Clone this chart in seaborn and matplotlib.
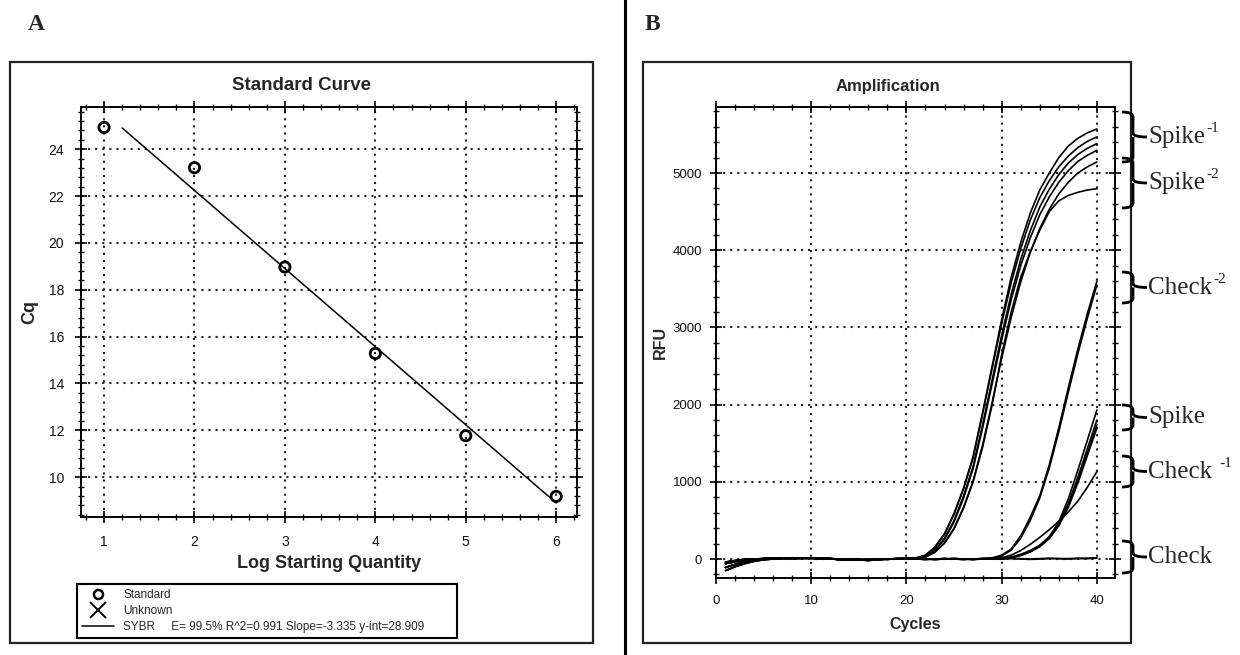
import matplotlib
matplotlib.use("Agg")
import matplotlib.pyplot as plt
from matplotlib import font_manager
from matplotlib.lines import Line2D
from matplotlib.patches import Rectangle, PathPatch
from matplotlib.path import Path
from matplotlib.ticker import MultipleLocator
import pandas as pd
import seaborn as sns

# ---------------- Standard curve (panel A) ----------------
LOG_QTY = [1, 2, 3, 4, 5, 6]
CQ = [24.93, 23.21, 18.97, 15.28, 11.77, 9.18]
FIT_SLOPE = -3.335
FIT_YINT = 28.909
FIT_X = [1.2, 6.0]
LEGEND_LABELS = ["Standard", "Unknown",
                 "SYBR     E= 99.5% R^2=0.991 Slope=-3.335 y-int=28.909"]

# ---------------- Amplification (panel B) ----------------
CYCLES = list(range(1, 41))
SPIKE_1A = [-60, -35, -15, -5, 5, 10, 10, 10, 10, 10, 10, 5, -10, -5, -15, -5, -10, 0, 5, 5,
            15, 50, 160, 330, 590, 920, 1330, 1900, 2500, 3100, 3650, 4100, 4480, 4780, 5000,
            5200, 5350, 5450, 5520, 5571]
SPIKE_1B = [-110, -70, -35, -15, 0, 5, 10, 10, 10, 10, 5, 5, 0, -10, -5, -10, 0, -5, 5, 5,
            12, 45, 150, 320, 580, 910, 1310, 1880, 2470, 3050, 3580, 4020, 4390, 4680, 4900,
            5080, 5220, 5330, 5410, 5468]
SPIKE_1C = [-40, -20, -5, 0, 5, 10, 10, 10, 10, 10, 5, 0, -5, -10, -5, -15, -5, 0, 0, 5,
            8, 35, 120, 270, 500, 820, 1200, 1740, 2320, 2900, 3430, 3880, 4250, 4560, 4790,
            4980, 5130, 5240, 5320, 5381]
SPIKE_2A = [-60, -35, -15, -5, 5, 10, 10, 10, 10, 10, 10, 5, -10, -5, -15, -5, -10, 0, 5, 5,
            8, 30, 110, 255, 480, 790, 1170, 1700, 2270, 2840, 3360, 3800, 4160, 4460, 4690,
            4880, 5030, 5150, 5230, 5294]
SPIKE_2B = [-150, -100, -60, -30, -10, 0, 5, 5, 10, 10, 10, 5, -5, -15, -10, -20, -5, 0, 0, 5,
            5, 25, 90, 210, 400, 670, 1010, 1480, 2030, 2600, 3130, 3590, 3970, 4280, 4530,
            4730, 4880, 5000, 5080, 5143]
SPIKE_2C = [-110, -70, -35, -15, 0, 5, 10, 10, 10, 10, 5, 5, 0, -10, -5, -10, 0, -5, 5, 5,
            5, 25, 90, 205, 390, 660, 1000, 1450, 2000, 2650, 3200, 3650, 3980, 4260, 4500,
            4640, 4710, 4750, 4780, 4796]
CHECK_2A = [-40, -20, -5, 0, 5, 10, 10, 10, 10, 10, 5, 0, -5, -10, -5, -15, -5, 0, 0, 5,
            5, 0, -5, 0, 5, 0, -5, 5, 15, 50, 130, 300, 540, 820, 1220, 1700, 2220, 2720,
            3180, 3600]
CHECK_2B = [-60, -35, -15, -5, 5, 10, 10, 10, 10, 10, 10, 5, -10, -5, -15, -5, -10, 0, 5, 5,
            0, -5, 0, 5, 0, -5, 0, 5, 10, 40, 115, 270, 500, 790, 1180, 1650, 2160, 2660,
            3120, 3550]
SPIKE_A = [-110, -70, -35, -15, 0, 5, 10, 10, 10, 10, 5, 5, 0, -10, -5, -10, 0, -5, 5, 5,
           5, 0, -5, 0, 5, 0, -5, 0, 5, 5, 25, 60, 110, 180, 290, 480, 780, 1150, 1540, 1930]
SPIKE_B = [-150, -100, -60, -30, -10, 0, 5, 5, 10, 10, 10, 5, -5, -15, -10, -20, -5, 0, 0, 5,
           0, -5, 0, 5, 0, -5, 0, 5, 5, 5, 20, 55, 100, 170, 280, 450, 720, 1060, 1430, 1800]
SPIKE_C = [-40, -20, -5, 0, 5, 10, 10, 10, 10, 10, 5, 0, -5, -10, -5, -15, -5, 0, 0, 5,
           5, 0, -5, 0, 5, 0, -5, 0, 5, 5, 20, 50, 95, 165, 270, 440, 690, 1010, 1370, 1736]
SPIKE_D = [-60, -35, -15, -5, 5, 10, 10, 10, 10, 10, 10, 5, -10, -5, -15, -5, -10, 0, 5, 5,
           0, -5, 0, 5, 0, -5, 0, 5, 5, 5, 15, 45, 90, 160, 265, 430, 670, 985, 1340, 1697]
CHECK_1A = [-110, -70, -35, -15, 0, 5, 10, 10, 10, 10, 5, 5, 0, -10, -5, -10, 0, -5, 5, 5,
            5, 0, -5, 0, 5, 0, -5, 0, 5, 15, 50, 110, 190, 280, 380, 490, 610, 750, 930, 1131]
CHECK_A = [-150, -100, -60, -30, -10, 0, 5, 5, 10, 10, 10, 5, -5, -15, -10, -20, -5, 0, 0, 5,
           5, 0, -5, 0, 5, 0, -5, 0, 5, 0, 5, 0, -5, 0, 5, 5, 0, 5, 5, 10]
CHECK_B = [-40, -20, -5, 0, 5, 10, 10, 10, 10, 10, 5, 0, -5, -10, -5, -15, -5, 0, 0, 5,
           0, -5, 0, 5, 0, -5, 0, 5, 0, 5, 10, 5, 0, 5, 10, 5, 5, 10, 10, 15]

GROUP_NAMES = ["Spike", "Spike", "Check", "Spike", "Check", "Check"]
GROUP_SUPS = ["-1", "-2", "-2", "", "-1", ""]

# ---------------- fonts ----------------
def pick_font(*names):
    for n in names:
        try:
            font_manager.findfont(n, fallback_to_default=False)
            return n
        except ValueError:
            pass
    return "DejaVu Sans"

sns.set_theme(style="white")
SANS = pick_font("Liberation Sans", "Arial", "DejaVu Sans")
NARROW = pick_font("Liberation Sans Narrow", "Liberation Sans", "DejaVu Sans")
SERIF = pick_font("Liberation Serif", "DejaVu Serif")
plt.rcParams["font.family"] = [SANS, "DejaVu Sans"]

# ---------------- figure layout helpers (pixels) ----------------
W, H = 1240, 655
fig = plt.figure(figsize=(W / 100, H / 100), dpi=100)
fig.patch.set_facecolor("white")

def fx(x):
    return x / W

def fy(y):
    return 1 - y / H

def rect(l, t, r, b):
    return [l / W, 1 - b / H, (r - l) / W, (b - t) / H]

# panel frames and divider
for l, t, r, b in [(9.5, 62, 593, 643), (643, 62, 1131, 643)]:
    fig.add_artist(Rectangle((fx(l), fy(b)), (r - l) / W, (b - t) / H,
                             transform=fig.transFigure, fill=False, lw=1.6, ec="#222222"))
fig.add_artist(Line2D([fx(625), fx(625)], [0, 1], transform=fig.transFigure,
                      color="black", lw=2.2))

axA = fig.add_axes(rect(81, 107, 577, 517))
axB = fig.add_axes(rect(716, 107, 1115, 578))

GRID_KW = dict(ls=(0, (1, 2.4)), lw=1.5, color="#222222")

def style_axes(ax, fs):
    ax.set_facecolor("white")
    for s in ax.spines.values():
        s.set_visible(True)
        s.set_linewidth(1.4)
        s.set_color("black")
    ax.tick_params(which="both", direction="inout", top=True, right=True,
                   bottom=True, left=True, color="black", labelcolor="#111111")
    ax.tick_params(which="major", length=8, width=1.2)
    ax.tick_params(which="minor", length=5, width=1.0)
    ax.grid(True, which="major", **GRID_KW)
    for lbl in ax.get_xticklabels() + ax.get_yticklabels():
        lbl.set_fontfamily(NARROW)
        lbl.set_fontsize(fs)

# ---------------- panel A: standard curve ----------------
axA.set_xlim(0.745, 6.23)
axA.set_ylim(8.3, 25.8)
axA.xaxis.set_major_locator(MultipleLocator(1))
axA.xaxis.set_minor_locator(MultipleLocator(0.2))
axA.yaxis.set_major_locator(MultipleLocator(2))
axA.yaxis.set_minor_locator(MultipleLocator(0.4))

fit_y = [FIT_SLOPE * x + FIT_YINT for x in FIT_X]
axA.plot(FIT_X, fit_y, color="black", lw=1.1, zorder=3)
sns.scatterplot(x=LOG_QTY, y=CQ, ax=axA, marker="o", s=55, facecolor="none",
                edgecolor="black", linewidth=2.0, zorder=4, legend=False)
axA.set_xlabel("")
axA.set_ylabel("")
style_axes(axA, 10)
axA.tick_params(axis="x", pad=9)
axA.tick_params(axis="y", pad=8)

fig.text(fx(302), fy(86), "Standard Curve", ha="center", va="center",
         fontsize=13.5, fontweight="bold")
axA.set_xlabel("Log Starting Quantity", fontsize=13, fontweight="bold")
axA.xaxis.set_label_coords(0.5, (517 - 564) / 410)
axA.xaxis.label.set_va("center")
axA.set_ylabel("Cq", fontsize=13, fontweight="bold")
axA.yaxis.set_label_coords((30 - 81) / 496, 0.5)
axA.yaxis.label.set_va("center")

handles = [
    Line2D([], [], marker="o", ls="none", mfc="none", mec="black", mew=1.8, ms=6.5),
    Line2D([], [], marker="x", ls="none", color="black", mew=1.4, ms=11),
    Line2D([], [], color="black", lw=1.1),
]
leg = axA.legend(handles, LEGEND_LABELS, loc="lower left", mode="expand",
                 bbox_to_anchor=(fx(77), fy(638), (457 - 77) / W, (638 - 578) / H),
                 bbox_transform=fig.transFigure, fontsize=8.5, frameon=True,
                 fancybox=False, edgecolor="black", framealpha=1, borderpad=0.45,
                 labelspacing=0.32, handlelength=2.7, handletextpad=0.75,
                 borderaxespad=0)
leg.get_frame().set_linewidth(1.5)

# ---------------- panel B: amplification ----------------
curves = {
    "s1a": SPIKE_1A, "s1b": SPIKE_1B, "s1c": SPIKE_1C,
    "s2a": SPIKE_2A, "s2b": SPIKE_2B, "s2c": SPIKE_2C,
    "c2a": CHECK_2A, "c2b": CHECK_2B,
    "sa": SPIKE_A, "sb": SPIKE_B, "sc": SPIKE_C, "sd": SPIKE_D,
    "c1a": CHECK_1A, "ca": CHECK_A, "cb": CHECK_B,
}
df = pd.concat([pd.DataFrame({"cycle": CYCLES, "rfu": v, "well": k})
                for k, v in curves.items()], ignore_index=True)
sns.lineplot(data=df, x="cycle", y="rfu", units="well", estimator=None,
             color="black", lw=1.2, ax=axB, legend=False, zorder=3)
axB.set_xlim(0, 41.9)
axB.set_ylim(-246, 5855)
axB.xaxis.set_major_locator(MultipleLocator(10))
axB.xaxis.set_minor_locator(MultipleLocator(2))
axB.yaxis.set_major_locator(MultipleLocator(1000))
axB.yaxis.set_minor_locator(MultipleLocator(200))
style_axes(axB, 9.5)
axB.tick_params(axis="x", pad=8)
axB.tick_params(axis="y", pad=6)

fig.text(fx(888), fy(86), "Amplification", ha="center", va="center",
         fontsize=12, fontweight="bold")
axB.set_xlabel("Cycles", fontsize=11.5, fontweight="bold")
axB.xaxis.set_label_coords(0.5, (578 - 625) / 471)
axB.xaxis.label.set_va("center")
axB.set_ylabel("RFU", fontsize=11.5, fontweight="bold")
axB.yaxis.set_label_coords((660 - 716) / 399, 0.5)
axB.yaxis.label.set_va("center")

# panel letters
fig.text(fx(36), fy(24), "A", ha="center", va="center", fontsize=17,
         fontweight="bold", family=SERIF)
fig.text(fx(652), fy(24), "B", ha="center", va="center", fontsize=17,
         fontweight="bold", family=SERIF)

# group braces with labels on the right of panel B
BRACE_SPANS = [(112, 162), (158, 208), (272, 303), (405, 430), (456, 487), (541, 573)]
XH, XV, XT = 1122, 1133, 1147

def brace(t, b):
    m = (t + b) / 2
    pts = [(XH, t), (XV, t), (XV, t + 5), (XV, m - 4), (XV, m), (XT, m),
           (XV, m), (XV, m + 4), (XV, b - 5), (XV, b), (XH, b)]
    codes = [Path.MOVETO, Path.CURVE3, Path.CURVE3, Path.LINETO, Path.CURVE3, Path.CURVE3,
             Path.MOVETO, Path.CURVE3, Path.LINETO, Path.CURVE3, Path.CURVE3]
    verts = [(fx(x), fy(y)) for x, y in pts]
    return PathPatch(Path(verts, codes), transform=fig.transFigure, fill=False,
                     lw=2.0, ec="black", capstyle="butt")

renderer = fig.canvas.get_renderer()
for (t, b), name, sup in zip(BRACE_SPANS, GROUP_NAMES, GROUP_SUPS):
    fig.add_artist(brace(t, b))
    yc = (t + b) / 2
    txt = fig.text(fx(XT + 1), fy(yc), name, ha="left", va="center",
                   fontsize=18, family=SERIF)
    if sup:
        ext = txt.get_window_extent(renderer)
        gap = 7 if (name == "Check" and sup == "-1") else 1
        fig.text((ext.x1 + gap) / W, fy(yc - 8), sup, ha="left", va="center",
                 fontsize=11, family=SERIF)

fig.savefig("out.png", dpi=100, facecolor="white")
